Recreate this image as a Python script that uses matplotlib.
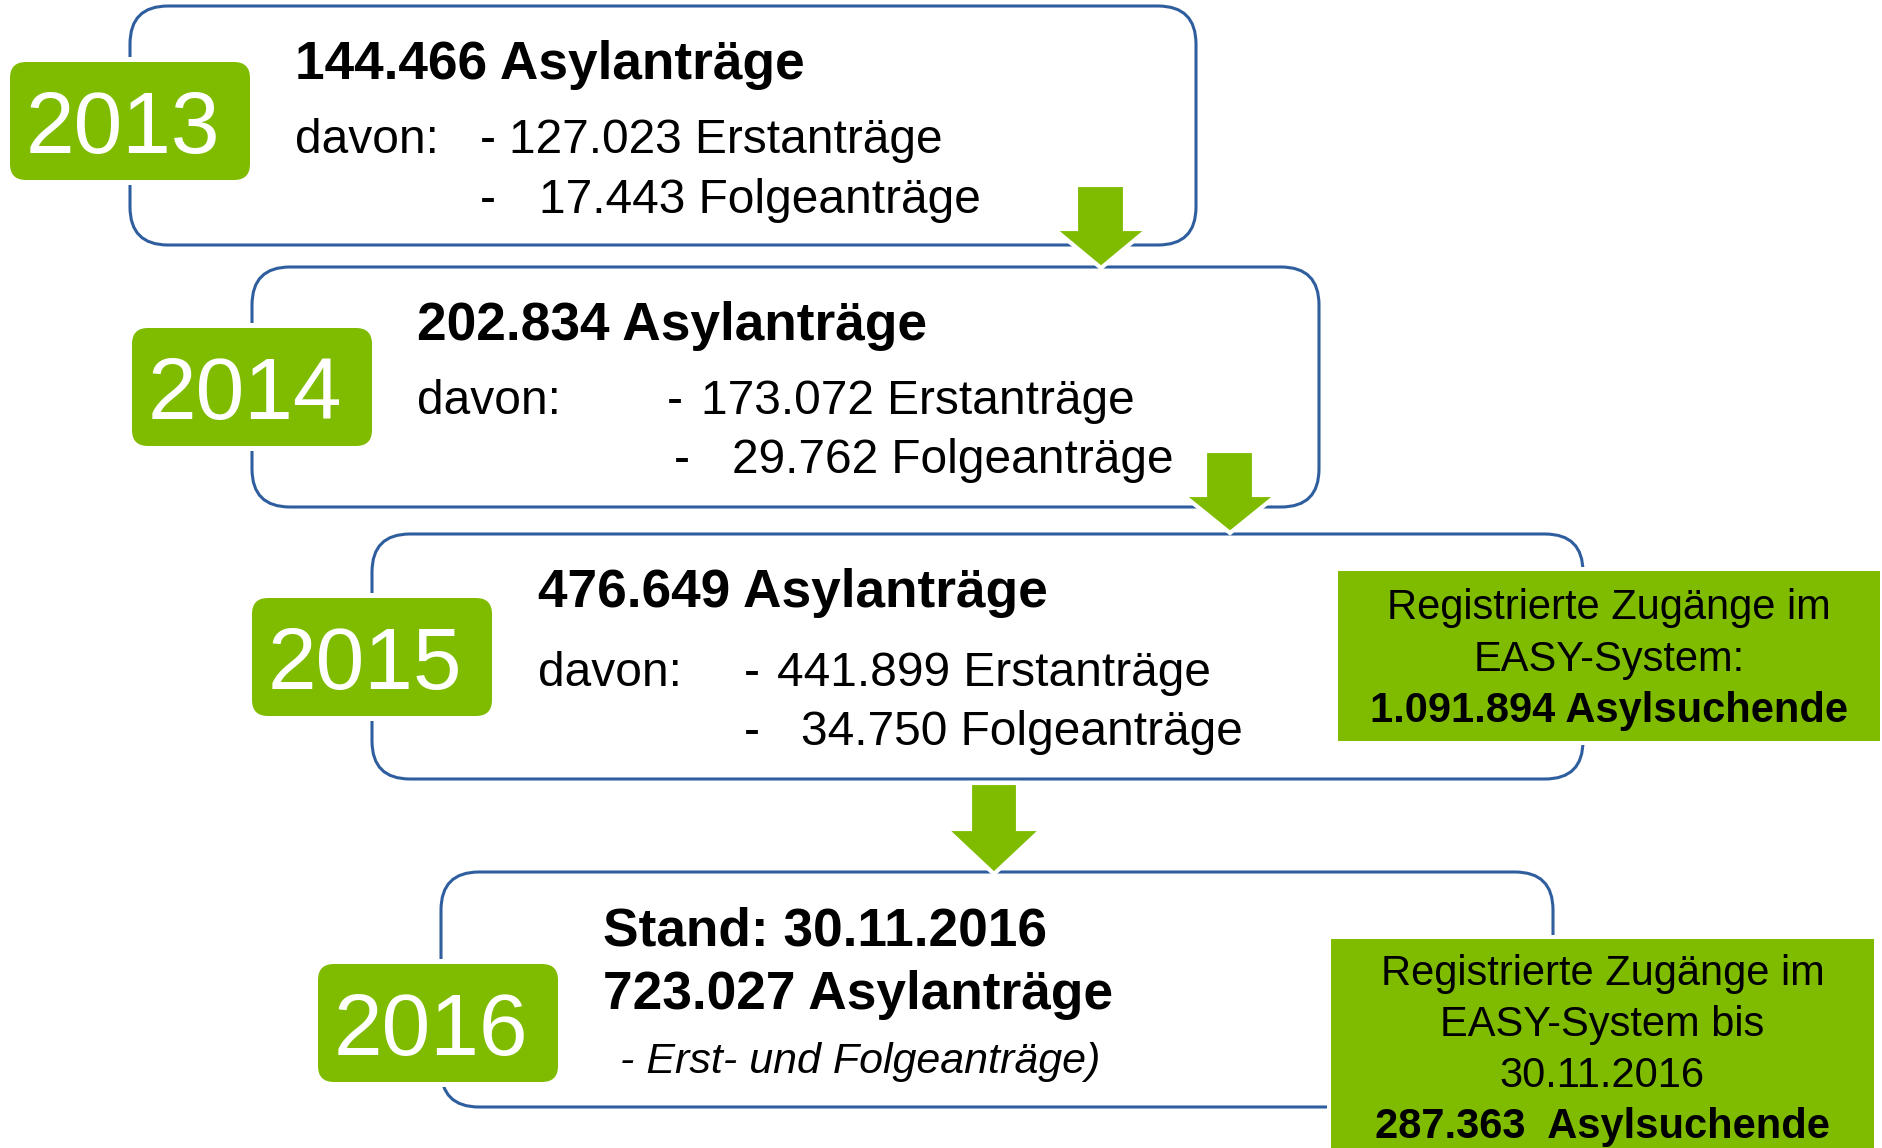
import matplotlib
matplotlib.use("Agg")
import matplotlib.pyplot as plt
from matplotlib.patches import FancyBboxPatch, Polygon

plt.rcParams['font.family'] = ['Liberation Sans', 'DejaVu Sans']

# data
years = ["2013", "2014", "2015", "2016"]
totals = ["144.466", "202.834", "476.649", "723.027"]
erst = ["127.023", "173.072", "441.899"]
folge = ["17.443", "29.762", "34.750"]
stand = "30.11.2016"
easy_2015 = "1.091.894"
easy_2016 = "287.363"

GREEN = "#7FBC00"
BLUE = "#2F5E9E"

# layout in pixels (x0, y0, x1, y1)
boxes = [(130, 6, 1196, 245), (252, 267, 1319, 507), (372, 534, 1583, 779), (441, 872, 1553, 1107)]
tabs = [(10, 62, 250, 180), (132, 328, 372, 446), (252, 598, 492, 716), (318, 964, 558, 1082)]
# shaft left, shaft right, top, head y, head left, head right, tip y
arrows = [(1076, 1125, 185, 229, 1054, 1148, 268),
          (1205, 1254, 451, 495, 1183, 1277, 533),
          (970, 1018, 783, 829, 946, 1042, 874)]
green_boxes = [(1338, 571, 1880, 741), (1331, 939, 1874, 1160)]

# text anchors: title x, title baseline, davon baseline, dash x, erst x, dash2 x, folge x, line3 baseline
txt = [(295, 79, 153, 480, 509, 480, 539, 213),
       (417, 340, 414, 667, 701, 674, 732, 473),
       (538, 607, 686, 744, 777, 744, 801, 745)]

W, H = 1883, 1148
fig = plt.figure(figsize=(W / 100, H / 100), dpi=100)
ax = fig.add_axes([0, 0, 1, 1])
ax.set_xlim(0, W)
ax.set_ylim(H, 0)
ax.axis("off")

BIG = 38.3
REG = 34.5
SIDE = 30


def rbox(x0, y0, x1, y1, r, **kw):
    p = FancyBboxPatch((x0, y0), x1 - x0, y1 - y0,
                       boxstyle=f"round,pad=0,rounding_size={r}", **kw)
    ax.add_patch(p)


# outlined boxes
for (x0, y0, x1, y1) in boxes:
    rbox(x0, y0, x1, y1, 38, facecolor="none", edgecolor=BLUE, linewidth=2.2, zorder=1)

# year tabs with a white margin
for (x0, y0, x1, y1), yr in zip(tabs, years):
    rbox(x0 - 5, y0 - 5, x1 + 5, y1 + 5, 20, facecolor="white", edgecolor="none", zorder=2)
    rbox(x0, y0, x1, y1, 16, facecolor=GREEN, edgecolor="none", zorder=3)
    ax.text((x0 + x1) / 2 - 7, y0 + 91, yr, color="white", fontsize=63,
            ha="center", va="baseline", zorder=4)

# arrows
for sl, sr, top, hy, hl, hr, tip in arrows:
    pts = [(sl, top), (sr, top), (sr, hy), (hr, hy), ((hl + hr) / 2, tip), (hl, hy), (sl, hy)]
    ax.add_patch(Polygon(pts, closed=True, facecolor=GREEN, edgecolor="white",
                         linewidth=3, joinstyle="miter", zorder=5))

# texts 2013-2015
for i, (tx, tb, db, dx, ex, d2x, fx, lb) in enumerate(txt):
    ax.text(tx, tb, f"{totals[i]} Asylanträge", fontsize=BIG, fontweight="bold",
            ha="left", va="baseline", zorder=6)
    ax.text(tx, db, "davon:", fontsize=REG, ha="left", va="baseline", zorder=6)
    ax.text(dx, db, "-", fontsize=REG, ha="left", va="baseline", zorder=6)
    ax.text(ex, db, f"{erst[i]} Erstanträge", fontsize=REG, ha="left", va="baseline", zorder=6)
    ax.text(d2x, lb, "-", fontsize=REG, ha="left", va="baseline", zorder=6)
    ax.text(fx, lb, f"{folge[i]} Folgeanträge", fontsize=REG, ha="left", va="baseline", zorder=6)

# texts 2016
ax.text(603, 946, f"Stand: {stand}", fontsize=BIG, fontweight="bold", ha="left", va="baseline")
ax.text(603, 1009, f"{totals[3]} Asylanträge", fontsize=BIG, fontweight="bold", ha="left", va="baseline")
ax.text(620, 1073, "- Erst- und Folgeanträge)", fontsize=31, fontstyle="italic",
        ha="left", va="baseline")

# green EASY boxes
for (x0, y0, x1, y1) in green_boxes:
    ax.add_patch(plt.Rectangle((x0 - 4, y0 - 4), x1 - x0 + 8, y1 - y0 + 8,
                               facecolor="white", edgecolor="none", zorder=7))
    ax.add_patch(plt.Rectangle((x0, y0), x1 - x0, y1 - y0,
                               facecolor=GREEN, edgecolor="none", zorder=8))

cx = (green_boxes[0][0] + green_boxes[0][2]) / 2
ax.text(cx, 619, "Registrierte Zugänge im", fontsize=SIDE, ha="center", va="baseline", zorder=9)
ax.text(cx, 671, "EASY-System:", fontsize=SIDE, ha="center", va="baseline", zorder=9)
ax.text(cx, 722, f"{easy_2015} Asylsuchende", fontsize=SIDE, fontweight="bold",
        ha="center", va="baseline", zorder=9)

cx = (green_boxes[1][0] + green_boxes[1][2]) / 2
ax.text(cx, 985, "Registrierte Zugänge im", fontsize=SIDE, ha="center", va="baseline", zorder=9)
ax.text(cx, 1036, "EASY-System bis", fontsize=SIDE, ha="center", va="baseline", zorder=9)
ax.text(cx, 1087, stand, fontsize=SIDE, ha="center", va="baseline", zorder=9)
ax.text(cx, 1138, f"{easy_2016}  Asylsuchende", fontsize=SIDE, fontweight="bold",
        ha="center", va="baseline", zorder=9)

fig.savefig("out.png", dpi=100, facecolor="white")
